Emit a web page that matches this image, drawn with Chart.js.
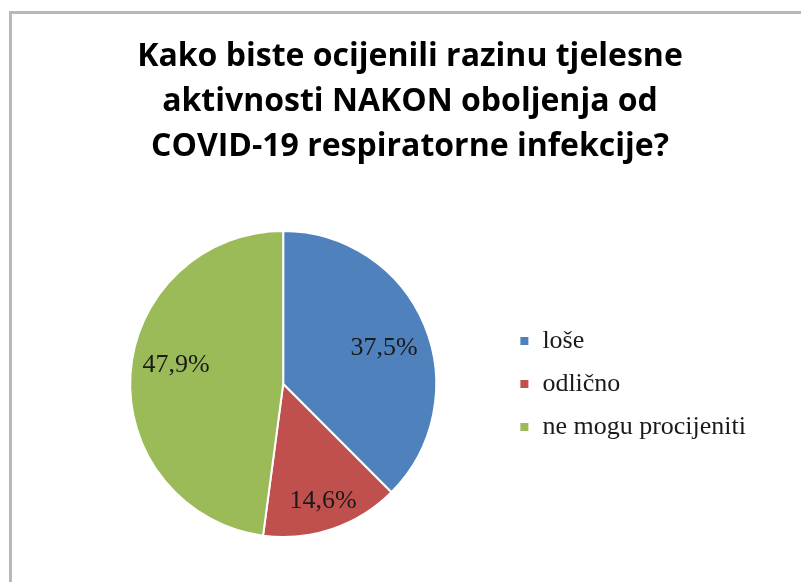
<!DOCTYPE html>
<html>
<head>
<meta charset="utf-8">
<script src="https://cdn.jsdelivr.net/npm/chart.js@4"></script>
<style>
  html, body { margin: 0; padding: 0; background: #fff; }
  body { width: 801px; height: 582px; position: relative; overflow: hidden; }
  #frame { position: absolute; left: 9px; top: 11px; width: 900px; height: 700px; border: 3px solid #b8b8b8; }
  #chart { position: absolute; left: 0; top: 0; }
</style>
</head>
<body>
<div id="frame"></div>
<canvas id="chart" width="801" height="582"></canvas>
<script>
  // pie: share of answers (%)
  var categories = ['loše', 'odlično', 'ne mogu procijeniti'];
  var values = [37.5, 14.6, 47.9];
  var titleLines = ['Kako biste ocijenili razinu tjelesne', 'aktivnosti NAKON oboljenja od', 'COVID-19 respiratorne infekcije?'];

  var colors = ['#4F81BD', '#C0504D', '#9BBB59'];
  // where the % text sits inside each slice (fraction of radius, angle nudge in degrees)
  var labelRadius = [0.70, 0.81, 0.71];
  var labelNudge = [3, 0, 6];

  function pct(v) {
    return v.toFixed(1).replace('.', ',') + '%';
  }

  var sliceLabels = {
    id: 'sliceLabels',
    afterDatasetsDraw: function (chart) {
      var ctx = chart.ctx;
      var meta = chart.getDatasetMeta(0);
      ctx.save();
      ctx.font = '26px "Liberation Serif", "Times New Roman", serif';
      ctx.fillStyle = '#1a1a1a';
      ctx.textAlign = 'center';
      ctx.textBaseline = 'middle';
      meta.data.forEach(function (arc, i) {
        var p = arc.getProps(['x', 'y', 'startAngle', 'endAngle', 'outerRadius'], true);
        var mid = (p.startAngle + p.endAngle) / 2 + labelNudge[i] * Math.PI / 180;
        var r = p.outerRadius * labelRadius[i];
        ctx.fillText(pct(values[i]), p.x + Math.cos(mid) * r, p.y + Math.sin(mid) * r);
      });
      ctx.restore();
    }
  };

  new Chart(document.getElementById('chart'), {
    type: 'pie',
    data: {
      labels: categories,
      datasets: [{
        data: values,
        backgroundColor: colors,
        borderColor: '#ffffff',
        borderWidth: 2
      }]
    },
    options: {
      responsive: false,
      animation: false,
      devicePixelRatio: 1,
      layout: { padding: { left: 64, right: 45, top: 0, bottom: 44 } },
      plugins: {
        title: {
          display: true,
          text: titleLines,
          color: '#000',
          font: { family: '"Open Sans", Lato, sans-serif', size: 32, weight: 'bold', lineHeight: 1.406 },
          padding: { top: 34, bottom: 61 }
        },
        legend: {
          position: 'right',
          fullSize: false,
          labels: {
            boxWidth: 10,
            boxHeight: 10,
            padding: 17,
            color: '#1a1a1a',
            font: { family: '"Liberation Serif", "Times New Roman", serif', size: 26 }
          }
        },
        tooltip: { enabled: false }
      }
    },
    plugins: [sliceLabels]
  });
</script>
</body>
</html>
